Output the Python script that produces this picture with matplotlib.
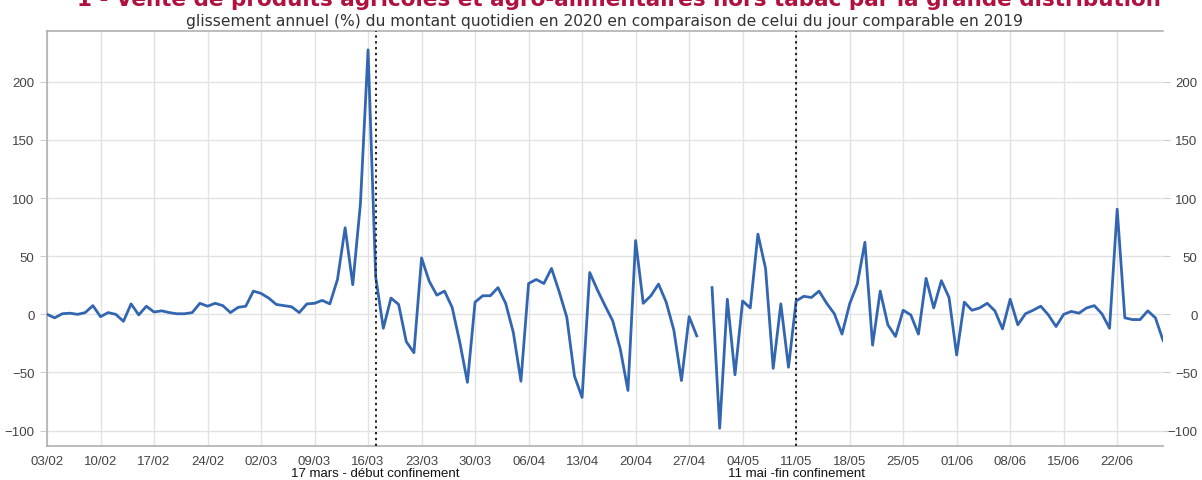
import matplotlib
matplotlib.use("Agg")
import matplotlib.pyplot as plt
import matplotlib.dates as mdates
import matplotlib.transforms as mtrans
import numpy as np
import pandas as pd

# daily values, 03/02/2020 -> 28/06/2020 (None = missing day)
values = [
    0, -3, 0.5, 1, 0, 1.5, 7.5, -2, 1.5, 0, -6, 9, -0.5, 7,
    2, 3, 1.5, 0.5, 0.5, 1.5, 9.5, 7, 9.5, 7.5, 1.5, 6, 7, 20,
    18, 14, 8.5, 7.5, 6.5, 1.5, 9, 9.5, 12, 9, 30, 74.5, 25.5, 95,
    227.5, 32, -12, 14, 8.5, -23.5, -33, 48.5, 28.5, 16.5, 20, 6, -24, -58.5,
    10.5, 16, 16, 23, 9.5, -15.5, -57.5, 26.5, 30, 26.5, 39.5, 19.5, -2.5, -53,
    -71.5, 36, 21, 7.5, -5.5, -30, -65.5, 63.5, 9.5, 16, 26, 10.5, -13.5, -57,
    -2, -18.5, None, 23, -98, 13, -52, 11.5, 5.5, 69, 39.5, -46.5, 9, -45.5,
    11.5, 15.5, 14.5, 20, 9.5, 0.5, -17, 9, 26, 62, -26.5, 20, -9, -19,
    3.5, -0.5, -17, 31, 5.5, 29, 14.5, -35, 10.5, 3.5, 5.5, 9.5, 3, -12.5,
    13, -9, 0.5, 3.5, 7, -0.5, -10.5, 0, 2.5, 1, 5.5, 7.5, 0.5, -12,
    90.5, -3, -4.5, -4.5, 3, -3, -22.5,
]
dates = pd.date_range("2020-02-03", periods=len(values), freq="D")
y = np.array([np.nan if v is None else v for v in values], dtype=float)

events = [pd.Timestamp("2020-03-17"), pd.Timestamp("2020-05-11")]
event_labels = ["17 mars - début confinement", "11 mai -fin confinement"]

title = "1 - Vente de produits agricoles et agro-alimentaires hors tabac par la grande distribution"
subtitle = "glissement annuel (%) du montant quotidien en 2020 en comparaison de celui du jour comparable en 2019"

fig = plt.figure(figsize=(12.02, 4.81), dpi=100)
ax = fig.add_axes([0.0391, 0.0701, 0.9285, 0.8640])

ax.plot(dates, y, color="#3366B1", lw=2.0, zorder=3)

for d in events:
    ax.axvline(d, color="#222222", ls=(0, (1.2, 1.8)), lw=1.4, zorder=4)

ax.set_xlim(dates[0], dates[-1])
ax.set_ylim(-113.5, 244)
ax.set_yticks([-100, -50, 0, 50, 100, 150, 200])
ax.set_yticklabels(["\u2212100", "\u221250", "0", "50", "100", "150", "200"])

ax.xaxis.set_major_locator(mdates.WeekdayLocator(byweekday=mdates.MO))
ax.xaxis.set_major_formatter(mdates.DateFormatter("%d/%m"))

ax.grid(True, color="#e2e2e2", lw=1.0)
ax.set_axisbelow(True)

for s in ["left", "top", "bottom"]:
    ax.spines[s].set_color("#b0b0b0")
    ax.spines[s].set_linewidth(1.2)
ax.spines["right"].set_visible(False)

ax.tick_params(axis="y", which="both", left=True, right=True, labelleft=True,
               labelright=True, length=5, color="#cccccc", labelcolor="#444444",
               labelsize=9.5, pad=4)
ax.tick_params(axis="x", length=0, labelcolor="#444444", labelsize=9.5, pad=6)
for lab in ax.get_xticklabels() + ax.get_yticklabels():
    lab.set_family("Liberation Sans")

# right-hand labels: right aligned near the figure edge
offset = mtrans.ScaledTranslation(22 / 100, 0, fig.dpi_scale_trans)
for t in ax.yaxis.get_major_ticks():
    t.label2.set_horizontalalignment("right")
    t.label2.set_family("Liberation Sans")
    t.label2.set_transform(t.label2.get_transform() + offset)

for d, lbl in zip(events, event_labels):
    ax.annotate(lbl, xy=(mdates.date2num(d), 0), xycoords=("data", "axes fraction"),
                xytext=(0, -19.5), textcoords="offset points", ha="center", va="center",
                fontsize=9.5, color="#111111", family="Liberation Sans")

# title is partly cut off at the top, as in the source
fig.text(0.515, 0.988, title, ha="center", va="baseline", fontsize=15.5,
         fontweight="bold", color="#B0123F", family="DejaVu Sans")
fig.text(0.5025, 0.956, subtitle, ha="center", va="center", fontsize=11.2,
         color="#333333", family="DejaVu Sans")

fig.savefig("out.png", dpi=100)
